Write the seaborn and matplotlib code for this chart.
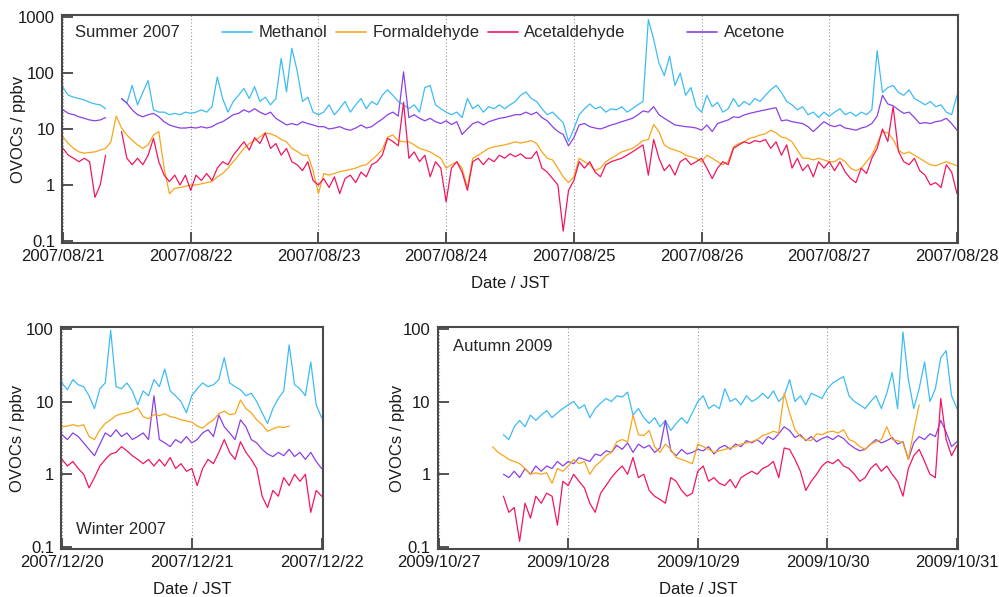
import numpy as np
import pandas as pd
import matplotlib
matplotlib.use("Agg")
import matplotlib.pyplot as plt
from matplotlib.lines import Line2D
from matplotlib.ticker import NullLocator
import seaborn as sns

nan = np.nan

# ---------------- names / colours ----------------
species = ["Methanol", "Formaldehyde", "Acetaldehyde", "Acetone"]
colors = {"Methanol": "#3dbcf4", "Formaldehyde": "#f9a51a",
          "Acetaldehyde": "#f2165e", "Acetone": "#8b40e4"}
draw_order = ["Methanol", "Acetone", "Formaldehyde", "Acetaldehyde"]

# ---------------- Summer 2007 (hourly from 2007/08/21 00:00) ----------------
summer_start = "2007-08-21 00:00"
summer_methanol = [
    55, 40, 37, 35, 33, 30, 28, 27, 23, nan,
    nan, 35, 29, 60, 27, 45, 73, 22, 20, 20,
    18, 19, 18, 20, 19, 20, 22, 20, 25, 85,
    35, 20, 31, 40, 53, 35, 57, 31, 37, 27,
    35, 183, 46, 276, 110, 31, 37, 20, 18,
    20, 27, 18, 23, 31, 20, 27, 35, 23, 31,
    27, 40, 50, 40, 31, 27, 23, 27, 20, 55,
    60, 27, 23, 20, 18, 20, 16, 35, 23, 27,
    20, 25, 23, 27, 23, 27, 31, 40, 46, 35,
    31, 23, 18, 20, 16, 13, 6, 10,
    18, 23, 28, 23, 25, 20, 23, 22, 25, 20,
    23, 27, 31, 900, 400, 150, 90, 200, 60, 100,
    40, 55, 25, 20, 40, 25, 30, 20, 23, 35,
    25, 31, 27, 35, 31, 40, 50, 60, 45, 31,
    27, 22, 25, 18, 20, 16, 20, 17,
    20, 23, 18, 20, 17, 20, 18, 22, 250, 45,
    55, 60, 45, 40, 50, 35, 31, 27, 31, 25,
    27, 20, 18, 40]
summer_formaldehyde = [
    7.2, 5.5, 4.5, 3.9, 3.7, 3.8, 3.9, 4.2, 4.5, 5.9,
    17, 10.4, 7.8, 6.3, 5.2, 4.5, 5.2, 7.8, 9, 2.0,
    0.7, 0.87, 0.9, 0.95, 1.0, 1.0, 1.05, 1.1, 1.15, 1.4,
    1.6, 2.0, 2.6, 3.4, 4.5, 5.5, 6.2, 7.2, 8.5, 8.2,
    7.5, 6.5, 5.9, 4.5, 4.0, 3.4, 3.4, 1.8, 0.7,
    1.6, 1.5, 1.6, 1.73, 1.8, 1.9, 2.0, 2.2, 2.3, 2.8,
    3.4, 4.3, 7.2, 7.8, 6.2, 5.9, 5.9, 5.2, 4.5, 4.2,
    3.9, 3.4, 3.0, 2.0, 2.3, 2.6, 2.0, 0.9, 3.0, 3.4,
    3.9, 4.5, 4.8, 5.0, 5.2, 5.5, 5.9, 5.6, 5.9, 6.2,
    5.5, 3.9, 3.0, 2.8, 2.0, 1.4, 1.1, 1.4,
    3.0, 2.6, 2.3, 1.8, 2.0, 2.6, 3.0, 3.4, 3.9, 4.2,
    4.5, 5.2, 6.2, 6.5, 12, 9, 5.2, 4.5, 4.2, 3.9,
    3.4, 3.2, 3.0, 2.6, 3.4, 3.0, 2.6, 2.3, 2.6, 4.8,
    5.5, 5.9, 6.8, 7.2, 7.8, 8.2, 9.5, 8.5, 7.2, 6.8,
    5.9, 4.2, 3.0, 3.0, 2.8, 3.0, 2.8, 2.6,
    2.6, 3.0, 2.6, 2.0, 1.8, 2.0, 2.6, 3.4, 5.5, 9,
    8.5, 6.5, 4.2, 3.6, 3.9, 3.4, 3.0, 2.6, 2.3, 2.2,
    2.4, 2.6, 2.4, 2.2]
summer_acetaldehyde = [
    4.5, 3.4, 3.0, 2.6, 3.0, 2.6, 0.6, 1.0, 3.4, nan,
    nan, 9, 3.0, 2.3, 3.0, 2.3, 3.4, 6.8, 2.6, 1.5,
    1.15, 1.5, 1.0, 1.5, 0.8, 1.5, 1.2, 1.6, 1.2, 2.0,
    2.6, 2.3, 3.4, 4.5, 5.9, 4.2, 7.0, 5.5, 8.5, 4.5,
    5.5, 3.4, 4.5, 2.6, 2.3, 1.8, 2.6, 1.2, 1.0,
    1.3, 0.9, 1.4, 0.7, 1.3, 1.5, 1.1, 1.7, 1.4, 2.3,
    2.6, 3.4, 6.8, 6.0, 5.0, 30, 3.0, 3.9, 2.6, 3.4,
    1.4, 2.6, 2.0, 0.5, 2.0, 2.6, 1.7, 0.8, 2.6, 3.0,
    2.3, 3.0, 2.6, 3.4, 3.0, 3.6, 3.2, 3.6, 3.0, 3.0,
    4.0, 2.0, 1.7, 1.3, 1.0, 0.15, 0.8, 1.2,
    2.6, 2.0, 2.6, 1.7, 1.4, 2.3, 2.6, 2.8, 3.0, 3.4,
    3.9, 4.5, 5.2, 1.5, 6.5, 3.0, 1.8, 2.3, 1.5, 2.6,
    3.0, 2.3, 2.6, 3.0, 2.0, 1.3, 2.0, 2.6, 2.3, 4.5,
    5.2, 5.9, 5.5, 6.2, 5.9, 6.5, 4.5, 5.9, 3.4, 5.2,
    2.0, 3.0, 1.8, 2.3, 1.4, 2.6, 2.0, 2.6,
    1.8, 2.6, 1.7, 1.3, 1.1, 2.0, 1.6, 3.0, 4.5, 10,
    6.0, 25, 4.0, 2.6, 2.3, 3.0, 1.8, 1.5, 1.0, 1.1,
    0.9, 2.3, 1.7, 0.7]
summer_acetone = [
    22, 19, 18, 16.5, 15.5, 14.5, 14, 14.5, 16, nan,
    nan, 35, 29, 22, 18, 16.5, 18, 19, 16.5, 13.5,
    11.8, 11, 10.4, 10.4, 10.7, 10.4, 11, 10.4, 11, 12.5,
    13.5, 15.5, 18, 19, 22, 20, 23, 20, 18, 20,
    15.5, 13.5, 11.8, 12.5, 11.8, 13.5, 12.5, 11.8, 11,
    11, 10, 10.4, 11, 10, 9.5, 10.4, 11.8, 10.4, 11,
    13, 15, 18, 20, 17, 105, 16, 18, 15.5, 14,
    15.5, 13.5, 12.5, 14, 12, 13.5, 8, 10, 12.5, 13.5,
    11.8, 13.5, 14.5, 15.5, 16, 17, 18, 18, 20, 18,
    20, 16, 14, 11, 9, 8, 5, 7,
    11.8, 12.5, 11, 10.4, 10, 10.8, 11.8, 12.5, 13.5, 14.5,
    15.5, 17.8, 21, 20, 25, 18, 15.5, 13.5, 11.8, 11.4,
    11, 10.8, 10.4, 9.5, 11.8, 9, 12.5, 13.5, 14.5, 16.5,
    16, 17.8, 19, 20, 21, 22, 23, 24, 14, 14.5,
    13.5, 13, 12.5, 11, 9, 11, 13.5, 11.8,
    11, 11.8, 10.4, 10, 9.5, 10.4, 11, 12.5, 17, 40,
    28, 26, 22, 19, 20, 16, 12.5, 13, 12.5, 13.5,
    14, 15.5, 12.5, 9.5]

# ---------------- Winter 2007 (hourly from 2007/12/20 00:00) ----------------
winter_start = "2007-12-20 00:00"
winter_methanol = [
    18, 14.5, 20, 17, 16, 12, 8, 15, 18, 95,
    16, 15, 18, 14, 9, 14, 12, 20, 16, 28,
    14, 12, 10, 7, 12, 15, 18, 16, 17, 20,
    40, 18, 16, 14.5, 12, 13, 10, 7, 5, 8,
    11, 14, 60, 17, 15, 12, 35, 9, 6]
winter_formaldehyde = [
    4.5, 4.6, 4.8, 4.6, 4.8, 3.3, 3.0, 4.1, 5.0, 5.6,
    6.4, 6.8, 7.0, 7.4, 8.2, 6.2, 5.8, 6.6, 6.4, 6.8,
    6.2, 6.0, 5.6, 5.4, 5.2, 4.6, 4.3, 5.0, 5.6, 6.8,
    7.4, 6.6, 6.8, 10.5, 8.0, 7.0, 5.6, 4.8, 3.9, 4.2,
    4.5, 4.4, 4.6, nan, nan, nan, nan, nan, nan]
winter_acetaldehyde = [
    1.6, 1.3, 1.5, 1.2, 1.0, 0.65, 0.9, 1.3, 1.6, 1.9,
    2.0, 2.4, 2.1, 1.8, 1.6, 1.4, 1.6, 1.3, 1.6, 1.3,
    1.7, 1.2, 1.4, 1.1, 1.2, 0.7, 1.2, 1.6, 1.4, 2.0,
    3.0, 2.0, 1.6, 2.8, 2.0, 1.6, 1.2, 0.5, 0.35, 0.6,
    0.5, 0.9, 0.7, 1.0, 0.8, 1.0, 0.3, 0.6, 0.5]
winter_acetone = [
    3.5, 3.0, 3.7, 3.3, 2.7, 2.2, 1.8, 2.6, 3.7, 3.3,
    4.1, 3.3, 3.7, 3.0, 3.3, 3.7, 3.0, 12, 3.0, 2.7,
    2.4, 3.0, 2.7, 3.3, 2.7, 3.0, 3.7, 4.1, 3.3, 6.5,
    4.5, 3.7, 3.0, 5.6, 4.5, 3.0, 2.7, 2.2, 1.9, 1.75,
    2.0, 1.8, 2.2, 1.75, 2.0, 1.6, 2.0, 1.5, 1.2]

# ---------------- Autumn 2009 (hourly from 2009/10/27 10:00) ----------------
autumn_start = "2009-10-27 10:00"
autumn_methanol = [
    nan, nan, 3.5, 3.0, 4.5, 5.5, 4.5, 6.5, 5.5, 6.5,
    7.5, 6.0, 7.0, 8.0, 9.0, 10.0, 8.0, 9.0, 6.0, 8.0,
    9.5, 11.0, 10.0, 12.0, 11.5, 13.5, 6.5, 8.0, 6.0, 5.0,
    6.0, 4.5, 5.5, 4.0, 5.0, 6.0, 5.0, 7.0, 10.0,
    12, 8, 9, 8, 15, 10, 11, 9, 12, 10,
    11, 13, 11, 14, 10, 12, 20, 10, 12, 9,
    13, 12, 11, 15, 18, 20, 22, 12, 10, 9,
    8, 10, 12, 8, 13, 25, 8, 90, 20, 8,
    15, 35, 10, 15, 40, 50, 12, 8]
autumn_formaldehyde = [
    2.4, 2.0, 1.8, 1.6, 1.5, 1.4, 1.2, 1.0, 1.05, 1.0,
    1.05, 0.75, 1.2, 1.1, 1.3, 1.6, 1.4, 1.5, 1.0, 1.3,
    1.5, 1.8, 2.0, 2.8, 3.0, 2.8, 6.5, 3.5, 3.4, 4.0,
    2.4, 2.0, 2.6, 2.2, 1.7, 1.6, 1.5, 1.4, 2.6,
    2.4, 2.2, 2.0, 2.1, 2.2, 2.3, 2.4, 2.6, 2.7, 2.8,
    3.0, 3.4, 3.6, 3.9, 3.7, 13, 7, 4.1, 3.3, 3.0,
    2.9, 3.6, 3.5, 3.8, 3.9, 3.7, 4.1, 3.0, 2.8, 2.4,
    2.2, 2.6, 2.8, 3.0, 4.5, 3.0, 2.9, 2.7, 1.6, 4.0,
    9.0, nan, nan, nan, nan, nan, nan, nan]
autumn_acetaldehyde = [
    nan, nan, 0.5, 0.3, 0.35, 0.12, 0.4, 0.25, 0.5, 0.4,
    0.55, 0.5, 0.2, 0.8, 0.7, 1.0, 0.8, 0.65, 0.4, 0.3,
    0.55, 0.7, 0.9, 1.1, 1.3, 1.0, 1.7, 0.9, 1.0, 0.6,
    0.5, 0.45, 0.4, 0.9, 0.8, 0.6, 0.5, 0.55, 1.1,
    1.3, 0.8, 0.9, 0.75, 0.7, 0.85, 0.65, 0.9, 1.0, 1.1,
    1.0, 1.2, 1.3, 1.5, 0.9, 2.3, 2.2, 1.6, 1.1, 0.6,
    0.8, 1.0, 1.3, 1.5, 1.4, 1.6, 1.3, 1.2, 1.0, 0.8,
    0.9, 1.2, 1.4, 1.1, 1.3, 1.0, 0.8, 0.5, 1.2, 1.8,
    2.2, 1.5, 1.0, 0.9, 11, 3.0, 1.8, 2.5]
autumn_acetone = [
    nan, nan, 1.0, 0.9, 1.1, 0.9, 1.2, 1.0, 1.3, 1.1,
    1.3, 1.2, 1.5, 1.3, 1.5, 1.4, 1.7, 1.6, 1.5, 1.9,
    1.8, 2.1, 2.0, 2.5, 2.2, 2.7, 2.0, 2.6, 2.3, 2.5,
    2.0, 2.3, 5.5, 2.1, 1.8, 2.2, 1.9, 2.0, 2.2,
    2.1, 2.4, 1.9, 2.3, 2.5, 2.2, 2.6, 2.4, 2.9, 2.7,
    3.0, 2.6, 3.3, 3.0, 3.6, 4.5, 4.0, 3.2, 3.5, 2.9,
    3.3, 2.8, 3.1, 3.3, 3.0, 3.4, 3.1, 2.6, 2.3, 2.1,
    2.2, 2.6, 3.0, 2.7, 2.9, 3.2, 2.6, 2.8, 1.6, 2.7,
    3.3, 3.0, 3.6, 3.3, 5.5, 3.8, 2.4, 2.8]

# ---------------- tick labels / texts ----------------
summer_xticklabels = ["2007/08/21", "2007/08/22", "2007/08/23", "2007/08/24",
                      "2007/08/25", "2007/08/26", "2007/08/27", "2007/08/28"]
winter_xticklabels = ["2007/12/20", "2007/12/21", "2007/12/22"]
autumn_xticklabels = ["2009/10/27", "2009/10/28", "2009/10/29", "2009/10/30", "2009/10/31"]
top_yticklabels = ["0.1", "1", "10", "100", "1000"]
bottom_yticklabels = ["0.1", "1", "10", "100"]


def long_frame(start, series):
    parts = []
    for name, vals in series.items():
        v = np.asarray(vals, dtype=float)
        t = pd.date_range(start, periods=len(v), freq="h")
        seg = np.cumsum(np.isnan(v))
        df = pd.DataFrame({"time": t, "ppbv": v, "species": name, "seg": seg})
        parts.append(df.dropna())
    return pd.concat(parts, ignore_index=True)


summer_df = long_frame(summer_start, {"Methanol": summer_methanol, "Formaldehyde": summer_formaldehyde,
                                      "Acetaldehyde": summer_acetaldehyde, "Acetone": summer_acetone})
winter_df = long_frame(winter_start, {"Methanol": winter_methanol, "Formaldehyde": winter_formaldehyde,
                                      "Acetaldehyde": winter_acetaldehyde, "Acetone": winter_acetone})
autumn_df = long_frame(autumn_start, {"Methanol": autumn_methanol, "Formaldehyde": autumn_formaldehyde,
                                      "Acetaldehyde": autumn_acetaldehyde, "Acetone": autumn_acetone})

sns.set_style("white")
plt.rcParams["font.family"] = ["Liberation Sans", "DejaVu Sans"]
plt.rcParams["font.size"] = 12

fig = plt.figure(figsize=(9.99, 5.97), dpi=100)
ax_top = fig.add_axes([0.062, 0.593, 0.897, 0.382])
ax_win = fig.add_axes([0.061, 0.0804, 0.262, 0.372])
ax_aut = fig.add_axes([0.438, 0.0804, 0.521, 0.372])


def draw(ax, df):
    for name in draw_order:
        sub = df[df["species"] == name]
        sns.lineplot(data=sub, x="time", y="ppbv", units="seg", estimator=None,
                     color=colors[name], lw=0.9, ax=ax, legend=False)


def style(ax, xlabels, ylabels, ylim, label_x):
    ax.set_yscale("log")
    ax.set_ylim(*ylim)
    ax.set_yticks([float(s) for s in ylabels])
    ax.set_yticklabels(ylabels)
    ax.yaxis.set_minor_locator(NullLocator())
    ticks = pd.to_datetime(xlabels, format="%Y/%m/%d")
    ax.set_xticks(ticks)
    ax.set_xticklabels(xlabels)
    pad = pd.Timedelta(minutes=12)
    ax.set_xlim(ticks[0] - pad, ticks[-1] + pad)
    ax.grid(True, axis="x", linestyle=(0, (1, 2)), color="#9a9a9a", lw=0.8)
    ax.grid(False, axis="y")
    ax.tick_params(axis="both", which="major", direction="in", length=8, width=1.3,
                   colors="#444444", labelcolor="#1a1a1a", labelsize=12,
                   bottom=True, left=True, right=False, top=False)
    ax.tick_params(axis="y", pad=5)
    ax.tick_params(axis="x", pad=4)
    for s in ax.spines.values():
        s.set_visible(True)
        s.set_color("#4a4a4a")
        s.set_linewidth(1.5)
    ax.set_xlabel("Date / JST", fontsize=12, labelpad=9, color="#1a1a1a")
    ax.set_ylabel("OVOCs / ppbv", fontsize=12, color="#1a1a1a")
    ax.yaxis.set_label_coords(label_x, 0.5)


draw(ax_top, summer_df)
draw(ax_win, winter_df)
draw(ax_aut, autumn_df)

style(ax_top, summer_xticklabels, top_yticklabels, (0.092, 1090), -0.040)
style(ax_win, winter_xticklabels, bottom_yticklabels, (0.094, 106), -0.137)
style(ax_aut, autumn_xticklabels, bottom_yticklabels, (0.094, 106), -0.063)

ax_top.text(0.0145, 0.921, "Summer 2007", transform=ax_top.transAxes, va="center", ha="left", fontsize=12)
ax_win.text(0.057, 0.09, "Winter 2007", transform=ax_win.transAxes, va="center", ha="left", fontsize=12)
ax_aut.text(0.029, 0.91, "Autumn 2009", transform=ax_aut.transAxes, va="center", ha="left", fontsize=12)

handles = {n: Line2D([], [], color=colors[n], lw=1.2) for n in species}
leg1 = ax_top.legend([handles[n] for n in species[:3]], species[:3], ncol=3, loc="center left",
                     bbox_to_anchor=(0.1786, 0.921), frameon=False, handlelength=1.8,
                     handletextpad=0.4, columnspacing=0.5, borderpad=0, borderaxespad=0, fontsize=12)
ax_top.add_artist(leg1)
ax_top.legend([handles["Acetone"]], ["Acetone"], loc="center left", bbox_to_anchor=(0.6975, 0.921),
              frameon=False, handlelength=1.8, handletextpad=0.4, borderpad=0, borderaxespad=0, fontsize=12)

fig.savefig("out.png", dpi=100)
